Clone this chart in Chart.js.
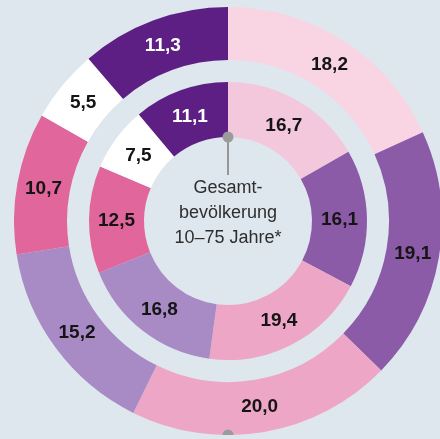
<!DOCTYPE html>
<html lang="de">
  <head>
    <meta charset="UTF-8" />
    <title>Gesamtbevölkerung 10–75 Jahre</title>
    <script src="https://cdn.jsdelivr.net/npm/chart.js@4"></script>
    <style>
      html, body {
        margin: 0;
        padding: 0;
        width: 440px;
        height: 439px;
        overflow: hidden;
        background: #dee6ee;
        font-family: "Liberation Sans", Arial, sans-serif;
      }
      #wrap {
        position: absolute;
        left: 14px;
        top: 7px;
        width: 428px;
        height: 428px;
      }
    </style>
  </head>
  <body>
    <div id="wrap"><canvas id="ringChart"></canvas></div>

    <script>
      // clockwise from 12 o'clock
      const segments = ["A", "B", "C", "D", "E", "F", "G"];
      const outerValues = [18.2, 19.1, 20.0, 15.2, 10.7, 5.5, 11.3];
      const innerValues = [16.7, 16.1, 19.4, 16.8, 12.5, 7.5, 11.1];
      const outerColors = ["#f9d5e4", "#8c5ba8", "#eea6c6", "#a88ac5", "#e0669b", "#ffffff", "#5e1f84"];
      const innerColors = ["#f4c8dc", "#8c5ba8", "#eea6c6", "#a88ac5", "#e0669b", "#ffffff", "#5e1f84"];
      const centerLines = ["Gesamt-", "bevölkerung", "10–75 Jahre*"];

      const fmt = (v) => v.toFixed(1).replace(".", ",");

      const ringLabels = {
        id: "ringLabels",
        afterDatasetsDraw(chart) {
          const ctx = chart.ctx;
          ctx.save();
          ctx.textAlign = "center";
          ctx.textBaseline = "middle";
          ctx.font = "bold 19px 'Liberation Sans', Arial, sans-serif";
          [0, 2].forEach((di) => {
            const ds = chart.data.datasets[di];
            chart.getDatasetMeta(di).data.forEach((arc, i) => {
              const p = arc.getCenterPoint();
              ctx.fillStyle = i === 6 ? "#ffffff" : "#151515";
              ctx.fillText(fmt(ds.data[i]), p.x, p.y + 1);
            });
          });

          // markers: start of inner ring and bottom of outer ring
          const inner = chart.getDatasetMeta(2).data[0];
          const outer = chart.getDatasetMeta(0).data[0];
          const cx = inner.x;
          const cy = inner.y;
          ctx.strokeStyle = "#7d7d7d";
          ctx.lineWidth = 1.5;
          ctx.beginPath();
          ctx.moveTo(cx, cy - inner.innerRadius);
          ctx.lineTo(cx, cy - inner.innerRadius + 38);
          ctx.stroke();
          ctx.fillStyle = "#9b9b9b";
          ctx.beginPath();
          ctx.arc(cx, cy - inner.innerRadius, 5.5, 0, Math.PI * 2);
          ctx.fill();
          ctx.beginPath();
          ctx.arc(cx, cy + outer.outerRadius, 5.5, 0, Math.PI * 2);
          ctx.fill();

          // centre text
          ctx.fillStyle = "#2e2e2e";
          ctx.font = "18px 'Liberation Sans', Arial, sans-serif";
          centerLines.forEach((t, k) => {
            ctx.fillText(t, cx, cy - 33 + k * 25);
          });
          ctx.restore();
        },
      };

      new Chart(document.getElementById("ringChart"), {
        type: "doughnut",
        data: {
          labels: segments,
          datasets: [
            { data: outerValues, backgroundColor: outerColors, weight: 53 },
            { data: [100], backgroundColor: "rgba(0,0,0,0)", weight: 22 },
            { data: innerValues, backgroundColor: innerColors, weight: 55 },
          ],
        },
        options: {
          responsive: true,
          maintainAspectRatio: false,
          animation: false,
          events: [],
          cutout: 84,
          layout: { padding: 0 },
          elements: { arc: { borderWidth: 0, hoverOffset: 0, offset: 0 } },
          plugins: {
            legend: { display: false },
            tooltip: { enabled: false },
          },
        },
        plugins: [ringLabels],
      });
    </script>
  </body>
</html>
